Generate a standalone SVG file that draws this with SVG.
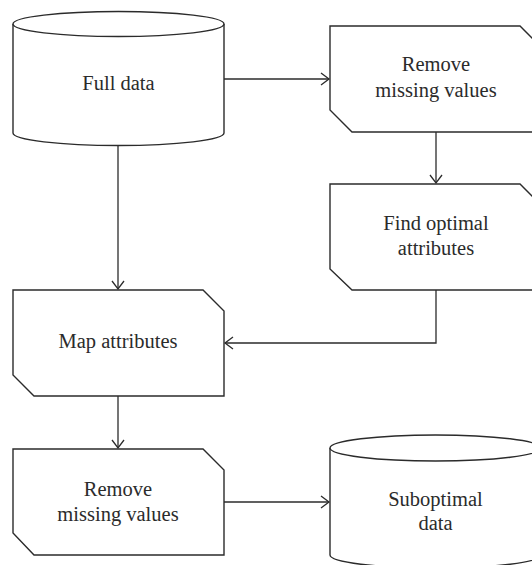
<svg xmlns="http://www.w3.org/2000/svg" width="532" height="565" viewBox="0 0 532 565">
<defs>
<marker id="arr" markerWidth="12" markerHeight="14" refX="10" refY="7" orient="auto" markerUnits="userSpaceOnUse">
<path d="M2,1 L10,7 L2,13" fill="none" stroke="#2b2b2b" stroke-width="1.3"/>
</marker>
</defs>
<style>
.shape{fill:#fff;stroke:#2b2b2b;stroke-width:1.4}
.edge{fill:none;stroke:#2b2b2b;stroke-width:1.3}
text{font-family:"Liberation Serif","Times New Roman",serif;font-size:20.5px;fill:#2b2b2b;text-anchor:middle}
</style>
<rect width="532" height="565" fill="#fff"/>
<g id="connectors">
<path class="edge" d="M224,79 H329" marker-end="url(#arr)"/>
<path class="edge" d="M436,132 V183" marker-end="url(#arr)"/>
<path class="edge" d="M436,290 V343 H225" marker-end="url(#arr)"/>
<path class="edge" d="M118,145 V289" marker-end="url(#arr)"/>
<path class="edge" d="M118,396 V448" marker-end="url(#arr)"/>
<path class="edge" d="M224,502 H329" marker-end="url(#arr)"/>
</g>
<g id="full-data">
<path class="shape" d="M13,24 V133 A105.5,12.5 0 0 0 224,133 V24"/>
<ellipse class="shape" cx="118.5" cy="24" rx="105.5" ry="12.5"/>
<text x="118.5" y="90">Full data</text>
</g>
<g id="remove-missing-1">
<path class="shape" d="M330,26 H520 L541,47 V132 H352 L330,110 Z"/>
<text x="436" y="71">Remove</text>
<text x="436" y="97">missing values</text>
</g>
<g id="find-optimal">
<path class="shape" d="M330,184 H520 L541,205 V290 H352 L330,269 Z"/>
<text x="436" y="230">Find optimal</text>
<text x="436" y="255">attributes</text>
</g>
<g id="map-attributes">
<path class="shape" d="M13,290 H203 L224,311 V396 H34 L13,375 Z"/>
<text x="118" y="348">Map attributes</text>
</g>
<g id="remove-missing-2">
<path class="shape" d="M13,449 H203 L224,470 V555 H34 L13,533 Z"/>
<text x="118" y="496">Remove</text>
<text x="118" y="521">missing values</text>
</g>
<g id="suboptimal-data">
<path class="shape" d="M330,448 V555 A105.5,13 0 0 0 541,555 V448"/>
<ellipse class="shape" cx="435.5" cy="448" rx="105.5" ry="13"/>
<text x="435.5" y="506">Suboptimal</text>
<text x="435.5" y="530">data</text>
</g>
</svg>
